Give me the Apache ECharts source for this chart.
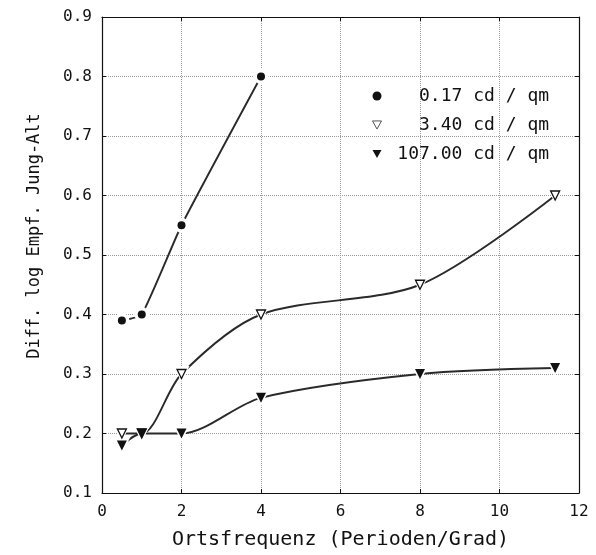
<!DOCTYPE html>
<html>
<head>
<meta charset="utf-8">
<script src="https://cdn.jsdelivr.net/npm/echarts@6/dist/echarts.min.js"></script>
<style>
  html, body { margin: 0; padding: 0; background: #fff; }
  #chart { width: 596px; height: 555px; }
</style>
</head>
<body>
<div id="chart"></div>
<script>
// Werte
var seriesNames = ["   0.17 cd / qm", "   3.40 cd / qm", " 107.00 cd / qm"];
var lum017 = [[0.5, 0.39], [1, 0.40], [2, 0.55], [4, 0.80]];
var lum340 = [[0.5, 0.20], [1, 0.20], [2, 0.30], [4, 0.40], [8, 0.45], [11.4, 0.60]];
var lum107 = [[0.5, 0.18], [1, 0.20], [2, 0.20], [4, 0.26], [8, 0.30], [11.4, 0.31]];
var xTicks = [0, 2, 4, 6, 8, 10, 12];
var yTicks = [0.1, 0.2, 0.3, 0.4, 0.5, 0.6, 0.7, 0.8, 0.9];

var myChart = echarts.init(document.getElementById("chart"));
var font = "DejaVu Sans Mono";
var ink = "#111";
var triDown = "path://M0,0L10,0L5,9Z";

// Linie ohne Symbole
function lineSeries(name, data, smooth) {
  return {
    name: name, type: "line", data: data, smooth: smooth,
    symbol: "none",
    lineStyle: { color: "#2a2a2a", width: 1.9 },
    emphasis: { disabled: true }, z: 2
  };
}
// weisser Hof um die Punkte (Luecke in der Linie)
function haloSeries(data, symbol, size) {
  return {
    type: "scatter", data: data, symbol: symbol, symbolSize: size + 7,
    itemStyle: { color: "#fff", opacity: 1 }, silent: true, z: 3
  };
}
function markSeries(data, symbol, size, fill) {
  return {
    type: "scatter", data: data, symbol: symbol, symbolSize: size,
    itemStyle: { color: fill, borderColor: ink, borderWidth: fill === "#fff" ? 1.3 : 0, opacity: 1 },
    silent: true, z: 4
  };
}

var axisCommon = {
  axisLine: { show: true, onZero: false, lineStyle: { color: ink, width: 1.2 } },
  axisTick: { show: true, inside: true, length: 4, lineStyle: { color: ink } }
};

myChart.setOption({
  animation: false,
  backgroundColor: "#fff",
  grid: { left: 102, right: 17, top: 17, bottom: 62 },
  legend: {
    orient: "vertical",
    left: 367,
    top: 82,
    itemGap: 11,
    itemWidth: 9,
    itemHeight: 9,
    textStyle: { fontFamily: font, fontSize: 18, color: ink },
    data: [
      { name: seriesNames[0], icon: "circle", itemStyle: { color: ink, borderWidth: 0 } },
      { name: seriesNames[1], icon: triDown, itemStyle: { color: "#fff", borderColor: "#555", borderWidth: 1 } },
      { name: seriesNames[2], icon: triDown, itemStyle: { color: ink, borderWidth: 0 } }
    ]
  },
  graphic: [{
    type: "text",
    rotation: Math.PI / 2,
    x: 35, y: 236,
    style: { text: "Diff. log Empf. Jung-Alt", font: "17px " + font, fill: ink, align: "center", verticalAlign: "middle" }
  }],
  xAxis: [{
    type: "value",
    min: xTicks[0], max: xTicks[xTicks.length - 1], interval: 2,
    name: "Ortsfrequenz (Perioden/Grad)",
    nameLocation: "middle", nameGap: 37,
    nameTextStyle: { fontFamily: font, fontSize: 20, color: ink },
    axisLine: axisCommon.axisLine, axisTick: axisCommon.axisTick,
    axisLabel: { fontFamily: font, fontSize: 16, color: ink, margin: 11 },
    splitLine: { show: true, lineStyle: { color: "#9a9a9a", type: "dotted", width: 1 } }
  }, {
    type: "value", position: "top",
    min: xTicks[0], max: xTicks[xTicks.length - 1], interval: 2,
    axisLine: axisCommon.axisLine, axisTick: axisCommon.axisTick,
    axisLabel: { show: false }, splitLine: { show: false }
  }],
  yAxis: [{
    type: "value",
    min: yTicks[0], max: yTicks[yTicks.length - 1], interval: 0.1,
    axisLine: axisCommon.axisLine, axisTick: axisCommon.axisTick,
    axisLabel: {
      fontFamily: font, fontSize: 16, color: ink, margin: 10,
      formatter: function (v) { return v.toFixed(1); }
    },
    splitLine: { show: true, lineStyle: { color: "#9a9a9a", type: "dotted", width: 1 } }
  }, {
    type: "value", position: "right",
    min: yTicks[0], max: yTicks[yTicks.length - 1], interval: 0.1,
    axisLine: axisCommon.axisLine, axisTick: axisCommon.axisTick,
    axisLabel: { show: false }, splitLine: { show: false }
  }],
  series: [
    lineSeries(seriesNames[0], lum017, 0.15),
    lineSeries(seriesNames[1], lum340, 0.3),
    lineSeries(seriesNames[2], lum107, 0.3),
    haloSeries(lum017, "circle", 8),
    haloSeries(lum340, triDown, 9),
    haloSeries(lum107, triDown, 10),
    markSeries(lum017, "circle", 8, ink),
    markSeries(lum340, triDown, 9, "#fff"),
    markSeries(lum107, triDown, 10, ink)
  ]
});
</script>
</body>
</html>
